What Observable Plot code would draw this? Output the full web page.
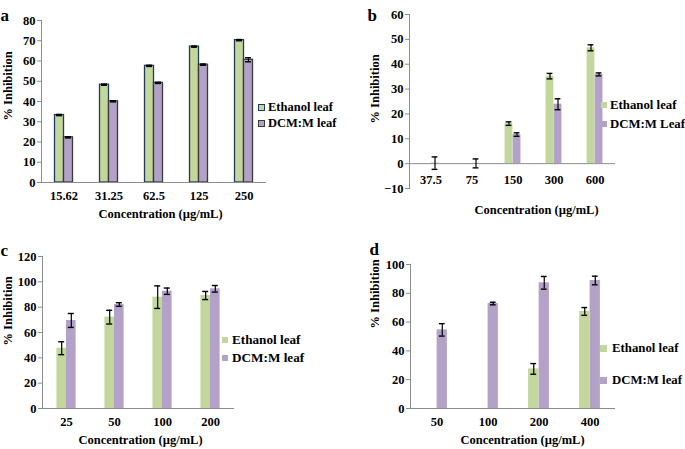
<!DOCTYPE html>
<html>
<head>
<meta charset="utf-8">
<script src="https://cdn.jsdelivr.net/npm/d3@7"></script>
<script src="https://cdn.jsdelivr.net/npm/@observablehq/plot@0.6"></script>
<style>
  html, body { margin: 0; padding: 0; background: #fff; overflow: hidden; }
  #wrap { position: relative; width: 685px; height: 449px; overflow: hidden;
          font-family: "Liberation Serif", "Times New Roman", serif; font-weight: bold; color: #000; }
  .panel { position: absolute; }
  .legend { position: absolute; white-space: nowrap; }
  .legend .item { position: absolute; display: flex; align-items: center; }
  .legend .sw { display: inline-block; box-sizing: border-box; }
</style>
</head>
<body>
<div id="wrap"></div>
<script>
// ---------- data ----------
const seriesColors = ["#c3d69b", "#b3a2c7"];

// panel a
const concA = ["15.62", "31.25", "62.5", "125", "250"];
const ethanolA = [33.3, 48.3, 57.6, 67.1, 70.3];
const ethanolAErr = [0.3, 0.3, 0.3, 0.3, 0.3];
const dcmA = [22.3, 40.1, 49.2, 58.2, 60.6];
const dcmAErr = [0.3, 0.3, 0.3, 0.3, 1.0];
const yTicksA = [0, 10, 20, 30, 40, 50, 60, 70, 80];
const legendA = ["Ethanol leaf", "DCM:M leaf"];

// panel b
const concB = ["37.5", "75", "150", "300", "600"];
const ethanolB = [0, 0, 16.1, 35.2, 46.6];
const ethanolBErr = [null, null, 0.7, 1.1, 1.2];
const dcmB = [0.2, 0.1, 11.7, 23.9, 35.9];
const dcmBErr = [2.5, 1.8, 0.7, 2.2, 0.6];
const yTicksB = [-10, 0, 10, 20, 30, 40, 50, 60];
const legendB = ["Ethanol leaf", "DCM:M Leaf"];

// panel c
const concC = ["25", "50", "100", "200"];
const ethanolC = [47.6, 72.1, 87.9, 89.2];
const ethanolCErr = [5.1, 5.4, 8.9, 3.2];
const dcmC = [69.5, 82.1, 92.6, 94.5];
const dcmCErr = [5.5, 1.4, 2.5, 2.6];
const yTicksC = [0, 20, 40, 60, 80, 100, 120];
const legendC = ["Ethanol leaf", "DCM:M leaf"];

// panel d
const concD = ["50", "100", "200", "400"];
const ethanolD = [0, 0, 27.5, 67.4];
const ethanolDErr = [null, null, 3.7, 2.7];
const dcmD = [54.6, 72.9, 87.3, 88.9];
const dcmDErr = [4.3, 0.9, 4.4, 3.0];
const yTicksD = [0, 20, 40, 60, 80, 100];
const legendD = ["Ethanol leaf", "DCM:M leaf"];

const xTitle = "Concentration (µg/mL)";
const yTitle = "% Inhibition";

// ---------- drawing ----------
const wrap = document.getElementById("wrap");
const AXIS = "#8c8c8c";

function panel(cfg) {
  const {conc, eth, ethErr, dcm, dcmErr, yTicks, letter, left, top, width, height,
         mL, mR, mT, mB, barFrac, outline, xLabelsAtZero, ytDx, ytDy, xtDx, xtDy,
         letterX, letterY, legend} = cfg;
  const rows = [];
  conc.forEach((c, i) => {
    rows.push({c, s: 0, v: eth[i], e: ethErr[i]});
    rows.push({c, s: 1, v: dcm[i], e: dcmErr[i]});
  });
  const fw = width - mL - mR;
  const bw = fw / conc.length;
  const barW = bw * barFrac;
  const cap = 3;
  const eRows = rows.filter(d => d.e != null);
  const side = s => (s === 0 ? -1 : 1);

  const marks = [];
  // bars
  [0, 1].forEach(s => {
    marks.push(Plot.barY(rows.filter(d => d.s === s && d.v !== 0), {
      x: "c", y: "v",
      fill: seriesColors[s],
      stroke: outline ? (s === 0 ? "#1f3a5c" : "#3a3a3a") : null,
      strokeWidth: outline ? 1.3 : null,
      insetLeft: s === 0 ? bw / 2 - barW : bw / 2,
      insetRight: s === 0 ? bw / 2 : bw / 2 - barW
    }));
  });
  // axes lines
  marks.push(Plot.frame({anchor: "left", stroke: AXIS}));
  marks.push(Plot.ruleY([0], {stroke: AXIS}));
  // error bars
  [0, 1].forEach(s => {
    const er = eRows.filter(d => d.s === s);
    const cx = side(s) * barW / 2;
    marks.push(Plot.ruleX(er, {x: "c", y1: d => d.v - d.e, y2: d => d.v + d.e, dx: cx, stroke: "#000", strokeWidth: 1.2}));
    const iL = bw / 2 + cx - cap, iR = bw / 2 - cx - cap;
    marks.push(Plot.tickY(er, {x: "c", y: d => d.v + d.e, insetLeft: iL, insetRight: iR, stroke: "#000", strokeWidth: 1.4}));
    marks.push(Plot.tickY(er, {x: "c", y: d => d.v - d.e, insetLeft: iL, insetRight: iR, stroke: "#000", strokeWidth: 1.4}));
  });
  // y axis
  marks.push(Plot.axisY(yTicks, {tickSize: 4, tickPadding: 2, stroke: AXIS, fill: "#000", fontSize: 12.5, label: null}));
  // x tick labels
  if (xLabelsAtZero) {
    marks.push(Plot.text(conc, {x: d => d, y: 0, text: d => d, dy: 16, fontSize: 12.5, fill: "#000"}));
  } else {
    marks.push(Plot.axisX({tickSize: 0, tickPadding: 9, fontSize: 12.5, fill: "#000", label: null}));
  }
  // titles
  marks.push(Plot.text([xTitle], {frameAnchor: "bottom", text: d => d, dx: xtDx, dy: xtDy, fontSize: 12.5, fill: "#000"}));
  marks.push(Plot.text([yTitle], {frameAnchor: "left", text: d => d, rotate: -90, dx: ytDx, dy: ytDy, fontSize: 12.5, fill: "#000"}));
  marks.push(Plot.text([letter], {frameAnchor: "top-left", text: d => d, textAnchor: "start", dx: letterX - mL, dy: letterY - mT, fontSize: 17, fill: "#000"}));

  const svg = Plot.plot({
    width, height,
    marginLeft: mL, marginRight: mR, marginTop: mT, marginBottom: mB,
    x: {domain: conc, padding: 0, axis: null},
    y: {domain: [yTicks[0], yTicks[yTicks.length - 1]], axis: null},
    style: {fontFamily: '"Liberation Serif", "Times New Roman", serif', fontWeight: "bold", fontSize: "12.5px", overflow: "visible", background: "transparent"},
    marks
  });
  svg.classList.add("panel");
  svg.style.left = left + "px";
  svg.style.top = top + "px";
  wrap.appendChild(svg);

  // legend
  const lg = document.createElement("div");
  lg.className = "legend";
  lg.style.left = (left + legend.x) + "px";
  lg.style.top = top + "px";
  lg.style.fontSize = legend.fontSize + "px";
  legend.names.forEach((name, i) => {
    const it = document.createElement("div");
    it.className = "item";
    it.style.left = "0px";
    it.style.top = (legend.ys[i] - 9) + "px";
    it.style.height = "18px";
    const sw = document.createElement("span");
    sw.className = "sw";
    sw.style.width = legend.sw + "px";
    sw.style.height = legend.sw + "px";
    sw.style.background = seriesColors[i];
    if (outline) sw.style.border = "1.3px solid " + (i === 0 ? "#1f3a5c" : "#3a3a3a");
    sw.style.marginRight = legend.gap + "px";
    const tx = document.createElement("span");
    tx.textContent = name;
    it.appendChild(sw);
    it.appendChild(tx);
    lg.appendChild(it);
  });
  wrap.appendChild(lg);
}

panel({conc: concA, eth: ethanolA, ethErr: ethanolAErr, dcm: dcmA, dcmErr: dcmAErr, yTicks: yTicksA,
  letter: "a", left: 0, top: 0, width: 342, height: 225, mL: 41, mR: 76, mT: 20, mB: 43,
  barFrac: 0.2, outline: true, xLabelsAtZero: false,
  ytDx: -34, ytDy: 19, xtDx: 6.5, xtDy: 35, letterX: 0, letterY: 8,
  legend: {names: legendA, x: 258, ys: [107, 123], sw: 7, gap: 3, fontSize: 12.5}});

panel({conc: concB, eth: ethanolB, ethErr: ethanolBErr, dcm: dcmB, dcmErr: dcmBErr, yTicks: yTicksB,
  letter: "b", left: 342, top: 0, width: 343, height: 225, mL: 67, mR: 70, mT: 14, mB: 37,
  barFrac: 0.195, outline: false, xLabelsAtZero: true,
  ytDx: -35, ytDy: 22, xtDx: 24, xtDy: 25, letterX: 25, letterY: 8,
  legend: {names: legendB, x: 259, ys: [105, 124], sw: 6, gap: 3, fontSize: 12.8}});

panel({conc: concC, eth: ethanolC, ethErr: ethanolCErr, dcm: dcmC, dcmErr: dcmCErr, yTicks: yTicksC,
  letter: "c", left: 0, top: 225, width: 342, height: 224, mL: 42, mR: 108, mT: 31, mB: 41,
  barFrac: 0.2, outline: false, xLabelsAtZero: false,
  ytDx: -35, ytDy: 13, xtDx: 2, xtDy: 35, letterX: 0, letterY: 18,
  legend: {names: legendC, x: 222, ys: [340, 358].map(v => v - 225), sw: 6, gap: 4, fontSize: 13.2}});

panel({conc: concD, eth: ethanolD, ethErr: ethanolDErr, dcm: dcmD, dcmErr: dcmDErr, yTicks: yTicksD,
  letter: "d", left: 342, top: 225, width: 343, height: 224, mL: 68, mR: 70, mT: 39, mB: 41,
  barFrac: 0.205, outline: false, xLabelsAtZero: false,
  ytDx: -36, ytDy: -8, xtDx: 9.5, xtDy: 35, letterX: 27, letterY: 17,
  legend: {names: legendD, x: 258, ys: [348, 380].map(v => v - 225), sw: 7, gap: 5, fontSize: 12.8}});
</script>
</body>
</html>
